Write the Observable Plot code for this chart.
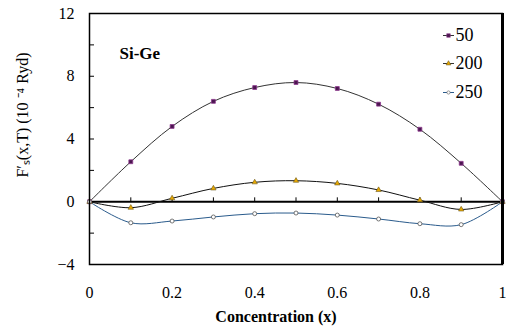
<!DOCTYPE html>
<html>
<head>
<meta charset="utf-8">
<script src="https://cdn.jsdelivr.net/npm/d3@7"></script>
<script src="https://cdn.jsdelivr.net/npm/@observablehq/plot@0.6"></script>
<style>
  html, body { margin: 0; padding: 0; background: #fff; }
  svg { display: block; }
  svg text { font-family: "Liberation Serif", "Times New Roman", serif !important; }
</style>
</head>
<body>
<div id="chart"></div>
<script>
const concentration = [0, 0.1, 0.2, 0.3, 0.4, 0.5, 0.6, 0.7, 0.8, 0.9, 1];
const series50  = [0, 2.55, 4.8, 6.4, 7.28, 7.6, 7.22, 6.22, 4.62, 2.45, 0];
const series200 = [0, -0.38, 0.22, 0.85, 1.24, 1.34, 1.17, 0.75, 0.1, -0.49, 0];
const series250 = [0, -1.34, -1.23, -0.97, -0.76, -0.72, -0.85, -1.1, -1.4, -1.46, 0];
const seriesNames = ["50", "200", "250"];
const xTickLabels = [0, 0.2, 0.4, 0.6, 0.8, 1];
const yTickLabels = [-4, 0, 4, 8, 12];
const yMinorTicks = [-2, 0, 2, 4, 6, 8, 10];
const xZeroTicks = [0.1, 0.2, 0.3, 0.4, 0.5, 0.6, 0.7, 0.8, 0.9];
const title = "Si-Ge";
const xLabel = "Concentration (x)";
const yLabel = "F\u2032\u209B(x,T) (10 \u207B\u2074 Ryd)";

const mk = (vals) => concentration.map((x, i) => ({x, y: vals[i]}));
const d50 = mk(series50), d200 = mk(series200), d250 = mk(series250);

const serif = "Liberation Serif";

// horizontal line symbol for legend samples
const hline = {draw(ctx, size) { const r = Math.sqrt(size / Math.PI); ctx.moveTo(-r, 0); ctx.lineTo(r, 0); }};

const legend = [
  {name: seriesNames[0], dy: 22, line: "#333", sym: "square", r: 2, fill: "#4b1650", stroke: "#8e3a8e"},
  {name: seriesNames[1], dy: 50, line: "#333", sym: "triangle", r: 1.8, fill: "#e8a800", stroke: "#6b5a20"},
  {name: seriesNames[2], dy: 79, line: "#2a5b8c", sym: "circle", r: 1.6, fill: "#fff", stroke: "#555"}
];

const legendMarks = legend.flatMap(L => [
  Plot.dot([L.name], {frameAnchor: "top-left", dx: 359, dy: L.dy, symbol: hline, r: 5.5, fill: "none", stroke: L.line, strokeWidth: 1}),
  Plot.dot([L.name], {frameAnchor: "top-left", dx: 359, dy: L.dy, symbol: L.sym, r: L.r, fill: L.fill, stroke: L.stroke, strokeWidth: 0.6}),
  Plot.text([L.name], {frameAnchor: "top-left", dx: 366, dy: L.dy, text: d => d, fontSize: 18, fontFamily: serif, textAnchor: "start", lineAnchor: "middle", fill: "#000"})
]);

const marks = [
  Plot.axisY(yTickLabels, {tickSize: 0, tickPadding: 15, fontSize: 16, fontFamily: serif, label: null}),
  Plot.axisX(xTickLabels, {tickSize: 0, tickPadding: 22, fontSize: 16, fontFamily: serif, label: null, tickFormat: d3.format("")}),
  Plot.tickY(yMinorTicks, {y: d => d, insetRight: 408, stroke: "#000", strokeWidth: 1}),
  Plot.ruleY([0], {stroke: "#000", strokeWidth: 2}),
  Plot.ruleX(xZeroTicks, {x: d => d, y1: 0, y2: 0.25, stroke: "#000", strokeWidth: 1}),
  Plot.line(d50, {x: "x", y: "y", curve: "catmull-rom", stroke: "#333", strokeWidth: 1}),
  Plot.line(d200, {x: "x", y: "y", curve: "catmull-rom", stroke: "#111", strokeWidth: 1}),
  Plot.line(d250, {x: "x", y: "y", curve: "catmull-rom", stroke: "#2a5b8c", strokeWidth: 1}),
  Plot.dot(d50, {x: "x", y: "y", symbol: "square", r: 2.2, fill: "#4b1650", stroke: "#8e3a8e", strokeWidth: 0.8}),
  Plot.dot(d200, {x: "x", y: "y", symbol: "triangle", r: 2, fill: "#e8a800", stroke: "#6b5a20", strokeWidth: 0.6}),
  Plot.dot(d250, {x: "x", y: "y", symbol: "circle", r: 2, fill: "#fff", stroke: "#555", strokeWidth: 0.8}),
  Plot.frame({stroke: "#000", strokeWidth: 1.5}),
  Plot.ruleX([1], {stroke: "#000", strokeWidth: 3}),
  Plot.text([title], {frameAnchor: "top-left", dx: 30, dy: 40, text: d => d, fontSize: 17, fontWeight: "bold", fontFamily: serif, textAnchor: "start", lineAnchor: "middle", fill: "#000"}),
  Plot.text([xLabel], {frameAnchor: "bottom", dx: -20, dy: 52, text: d => d, fontSize: 16, fontWeight: "bold", fontFamily: serif, textAnchor: "middle", lineAnchor: "middle", fill: "#000"}),
  Plot.text([yLabel], {frameAnchor: "left", dx: -67, dy: -24, rotate: -90, text: d => d, fontSize: 16, fontFamily: serif, textAnchor: "middle", lineAnchor: "middle", fill: "#000"}),
  ...legendMarks
];

const chart = Plot.plot({
  width: 506,
  height: 327,
  marginLeft: 89,
  marginRight: 4,
  marginTop: 13,
  marginBottom: 63,
  style: {background: "#fff", color: "#000", fontFamily: serif},
  x: {domain: [0, 1]},
  y: {domain: [-4, 12]},
  marks
});
document.getElementById("chart").appendChild(chart);
</script>
</body>
</html>
